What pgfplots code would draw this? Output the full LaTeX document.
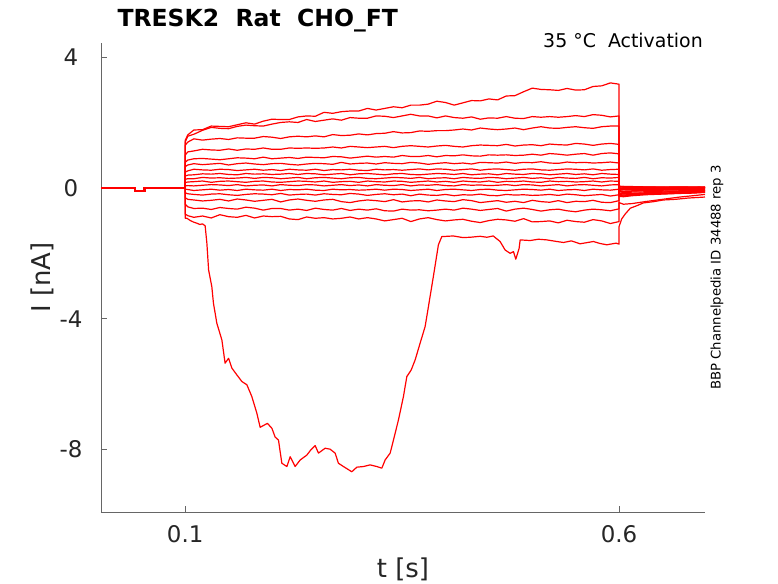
\documentclass[border=0pt]{standalone}
\usepackage{fontspec}
\setmainfont{DejaVu Sans}
\usepackage{pgfplots}
\usepackage{pgfplotstable}
\pgfplotsset{compat=1.18}

\pgfplotstableread{
t T1 T2 T3 T4 T5 T6 T7 T8 T9 T10 T11 T12 T13 T14 T15 T16
0.1 0 0 0 0 0 0 0 0 0 0 0 0 0 0 0 0
0.1 1.45 1.40 1.30 1.00 0.78 0.65 0.48 0.36 0.26 0.16 0.06 -0.04 -0.15 -0.30 -0.50 -0.80
0.103 1.62 1.58 1.40 1.10 0.85 0.70 0.52 0.39 0.28 0.18 0.07 -0.05 -0.18 -0.35 -0.58 -0.85
0.11 1.77 1.64 1.50 1.13 0.89 0.74 0.57 0.40 0.28 0.19 0.06 -0.08 -0.20 -0.37 -0.63 -0.90
0.12 1.78 1.76 1.46 1.18 0.90 0.71 0.55 0.43 0.32 0.21 0.08 -0.06 -0.22 -0.40 -0.62 -0.86
0.13 1.89 1.85 1.49 1.16 0.88 0.73 0.54 0.42 0.30 0.17 0.10 -0.04 -0.19 -0.38 -0.66 -0.92
0.14 1.88 1.82 1.51 1.15 0.86 0.75 0.57 0.44 0.31 0.20 0.09 -0.07 -0.18 -0.35 -0.60 -0.82
0.15 1.87 1.81 1.48 1.19 0.89 0.70 0.56 0.41 0.29 0.21 0.07 -0.05 -0.21 -0.40 -0.63 -0.88
0.16 1.93 1.88 1.53 1.15 0.92 0.74 0.53 0.40 0.30 0.19 0.10 -0.08 -0.23 -0.34 -0.65 -0.90
0.17 1.99 1.92 1.52 1.19 0.91 0.76 0.55 0.44 0.32 0.17 0.06 -0.04 -0.20 -0.37 -0.59 -0.84
0.18 1.95 1.90 1.52 1.18 0.89 0.73 0.57 0.42 0.29 0.20 0.08 -0.06 -0.18 -0.41 -0.62 -0.92
0.19 2.04 1.89 1.57 1.22 0.94 0.71 0.54 0.43 0.32 0.21 0.09 -0.07 -0.19 -0.38 -0.68 -0.86
0.20 2.10 1.95 1.55 1.18 0.89 0.74 0.56 0.41 0.31 0.18 0.06 -0.04 -0.21 -0.35 -0.63 -0.88
0.21 2.09 2.00 1.51 1.18 0.91 0.75 0.53 0.42 0.28 0.17 0.10 -0.08 -0.17 -0.43 -0.63 -0.87
0.22 2.09 2.02 1.56 1.22 0.93 0.72 0.57 0.44 0.30 0.19 0.08 -0.05 -0.22 -0.37 -0.68 -0.95
0.23 2.17 2.00 1.58 1.21 0.90 0.70 0.55 0.41 0.32 0.21 0.07 -0.06 -0.20 -0.34 -0.65 -0.97
0.24 2.20 2.09 1.56 1.22 0.94 0.73 0.54 0.44 0.28 0.20 0.10 -0.04 -0.19 -0.38 -0.69 -0.89
0.25 2.19 2.03 1.59 1.21 0.93 0.75 0.57 0.43 0.31 0.18 0.09 -0.07 -0.22 -0.41 -0.62 -0.93
0.26 2.31 2.07 1.56 1.22 0.92 0.74 0.53 0.40 0.32 0.21 0.06 -0.08 -0.18 -0.37 -0.66 -0.91
0.27 2.28 2.11 1.63 1.25 0.96 0.72 0.56 0.42 0.30 0.17 0.08 -0.04 -0.20 -0.35 -0.68 -0.95
0.28 2.33 2.07 1.60 1.22 0.95 0.78 0.55 0.44 0.28 0.19 0.10 -0.06 -0.21 -0.42 -0.63 -0.93
0.29 2.35 2.15 1.61 1.27 0.91 0.73 0.57 0.40 0.31 0.20 0.07 -0.05 -0.17 -0.45 -0.69 -0.89
0.30 2.35 2.13 1.65 1.25 0.94 0.75 0.54 0.43 0.32 0.17 0.09 -0.07 -0.19 -0.40 -0.65 -0.95
0.31 2.43 2.13 1.62 1.23 0.97 0.76 0.53 0.44 0.29 0.21 0.06 -0.06 -0.23 -0.37 -0.68 -0.91
0.32 2.38 2.20 1.66 1.25 0.94 0.73 0.57 0.42 0.28 0.19 0.10 -0.04 -0.20 -0.39 -0.64 -0.95
0.33 2.43 2.19 1.67 1.27 0.96 0.77 0.55 0.40 0.30 0.18 0.08 -0.07 -0.18 -0.42 -0.70 -1.01
0.34 2.48 2.15 1.72 1.23 0.94 0.75 0.56 0.43 0.32 0.21 0.07 -0.04 -0.21 -0.36 -0.71 -0.97
0.35 2.45 2.20 1.68 1.27 0.99 0.74 0.54 0.44 0.31 0.20 0.10 -0.05 -0.19 -0.43 -0.65 -0.93
0.36 2.53 2.25 1.69 1.29 0.96 0.78 0.56 0.41 0.29 0.17 0.06 -0.08 -0.24 -0.40 -0.68 -1.03
0.37 2.53 2.20 1.74 1.27 0.96 0.76 0.58 0.40 0.32 0.19 0.09 -0.06 -0.19 -0.39 -0.67 -0.95
0.38 2.56 2.20 1.73 1.25 0.99 0.72 0.55 0.42 0.28 0.21 0.08 -0.04 -0.22 -0.43 -0.70 -0.91
0.39 2.65 2.14 1.75 1.28 0.95 0.75 0.58 0.44 0.30 0.18 0.10 -0.08 -0.23 -0.37 -0.68 -0.97
0.40 2.61 2.20 1.75 1.30 0.99 0.77 0.57 0.43 0.31 0.20 0.07 -0.05 -0.20 -0.40 -0.65 -1.01
0.41 2.53 2.15 1.77 1.27 0.98 0.74 0.54 0.41 0.28 0.17 0.06 -0.04 -0.24 -0.42 -0.68 -0.98
0.42 2.60 2.13 1.80 1.25 1.01 0.76 0.56 0.44 0.32 0.21 0.10 -0.06 -0.21 -0.36 -0.62 -0.96
0.43 2.67 2.17 1.77 1.29 0.98 0.73 0.58 0.40 0.30 0.19 0.08 -0.08 -0.22 -0.39 -0.65 -1.02
0.44 2.66 2.10 1.83 1.31 0.97 0.78 0.54 0.42 0.29 0.18 0.09 -0.05 -0.19 -0.45 -0.69 -1.06
0.45 2.72 2.14 1.80 1.30 1.01 0.77 0.57 0.43 0.32 0.21 0.07 -0.04 -0.23 -0.42 -0.66 -1.00
0.46 2.69 2.13 1.78 1.29 1.00 0.76 0.58 0.40 0.31 0.17 0.08 -0.07 -0.24 -0.39 -0.63 -0.96
0.47 2.81 2.18 1.80 1.33 1.01 0.79 0.56 0.44 0.28 0.20 0.10 -0.08 -0.20 -0.44 -0.71 -0.98
0.48 2.82 2.13 1.83 1.28 0.99 0.75 0.54 0.42 0.30 0.19 0.07 -0.06 -0.22 -0.41 -0.65 -1.02
0.49 2.94 2.12 1.78 1.31 1.00 0.78 0.57 0.41 0.32 0.21 0.10 -0.04 -0.21 -0.45 -0.62 -0.94
0.50 3.05 2.18 1.83 1.32 1.03 0.77 0.58 0.44 0.29 0.18 0.09 -0.05 -0.23 -0.38 -0.66 -1.04
0.51 3.01 2.16 1.87 1.29 1.00 0.80 0.55 0.43 0.31 0.17 0.06 -0.07 -0.22 -0.42 -0.71 -1.03
0.52 3.00 2.18 1.83 1.34 1.05 0.76 0.54 0.40 0.28 0.21 0.08 -0.04 -0.20 -0.44 -0.67 -1.01
0.53 2.98 2.16 1.82 1.32 1.03 0.75 0.56 0.42 0.32 0.19 0.10 -0.08 -0.23 -0.39 -0.65 -1.07
0.54 3.04 2.18 1.85 1.31 1.00 0.79 0.58 0.44 0.30 0.20 0.06 -0.06 -0.19 -0.45 -0.70 -0.99
0.55 2.99 2.21 1.87 1.36 1.03 0.77 0.57 0.41 0.29 0.18 0.09 -0.05 -0.21 -0.41 -0.73 -1.03
0.56 3.00 2.18 1.84 1.34 1.05 0.78 0.55 0.43 0.32 0.19 0.10 -0.08 -0.24 -0.42 -0.68 -1.05
0.57 3.10 2.24 1.82 1.30 1.00 0.76 0.58 0.40 0.28 0.21 0.08 -0.04 -0.22 -0.38 -0.65 -0.97
0.58 3.12 2.22 1.87 1.34 1.05 0.77 0.54 0.44 0.31 0.18 0.06 -0.06 -0.20 -0.44 -0.67 -1.01
0.59 3.21 2.17 1.89 1.36 1.07 0.79 0.56 0.42 0.30 0.21 0.09 -0.07 -0.25 -0.45 -0.70 -1.09
0.60 3.17 2.20 1.89 1.33 1.04 0.76 0.57 0.41 0.32 0.20 0.10 -0.04 -0.21 -0.39 -0.64 -1.03
0.60 -0.22 -0.26 -0.20 -0.16 -0.12 -0.08 -0.04 0.00 0.03 0.05 0.05 0.02 -0.02 -0.10 -0.20 -0.45
0.605 -0.25 -0.27 -0.22 -0.18 -0.14 -0.10 -0.06 -0.02 0.02 0.04 0.04 0.03 -0.03 -0.12 -0.22 -0.50
0.615 -0.22 -0.24 -0.20 -0.17 -0.13 -0.09 -0.05 -0.02 0.01 0.03 0.04 0.03 -0.02 -0.10 -0.20 -0.48
0.63 -0.20 -0.21 -0.18 -0.15 -0.12 -0.08 -0.05 -0.02 0.01 0.03 0.03 0.02 -0.01 -0.08 -0.16 -0.42
0.65 -0.18 -0.19 -0.16 -0.13 -0.10 -0.07 -0.04 -0.01 0.01 0.02 0.03 0.02 0.00 -0.06 -0.13 -0.35
0.67 -0.16 -0.17 -0.14 -0.12 -0.09 -0.06 -0.04 -0.01 0.00 0.02 0.03 0.03 0.01 -0.04 -0.10 -0.28
0.685 -0.15 -0.16 -0.13 -0.11 -0.08 -0.06 -0.03 -0.01 0.00 0.02 0.02 0.03 0.01 -0.03 -0.08 -0.24
0.699 -0.13 -0.14 -0.12 -0.10 -0.08 -0.05 -0.03 0.00 0.01 0.02 0.03 0.02 0.01 -0.02 -0.07 -0.20
}\traces

\begin{document}
\begin{tikzpicture}
\begin{axis}[
  name=ax,
  scale only axis,
  width=604bp, height=469bp,
  xmin=0.003, xmax=0.699, ymin=-9.91, ymax=4.43,
  axis x line*=bottom, axis y line*=left,
  axis line style={black!60, line width=0.8bp},
  xtick={0.1,0.6}, xticklabels={0.1,0.6},
  ytick={-8,-4,0,4}, yticklabels={-8,-4,0,4},
  tick align=inside, major tick length=6bp,
  tick style={black!60, line width=0.8bp},
  xticklabel style={font=\fontsize{23}{27}\selectfont, text=black!85, anchor=north, inner sep=0pt, yshift=-13bp},
  yticklabel style={font=\fontsize{23}{27}\selectfont, text=black!85, anchor=center, inner sep=0pt, xshift=-30bp},
  clip=true,
  tr/.style={red, line width=1.2bp, line join=round},
]
\addplot[red, line width=2.6bp] coordinates {(0.003,0.0) (0.0424,0.0) (0.0424,-0.1) (0.0528,-0.1) (0.0528,0.0) (0.1,0.0)};
\pgfplotsinvokeforeach{1,...,16}{\addplot[tr] table[x=t,y=T#1]{\traces};}
\addplot[tr] coordinates {
(0.1,0) (0.1,-0.93) (0.102,-0.93) (0.106,-1.0) (0.11,-1.05) (0.1135,-1.08) (0.117,-1.12) (0.12,-1.1) (0.123,-1.16)
(0.125,-1.69) (0.127,-2.51) (0.1307,-3.02) (0.1326,-3.53) (0.1365,-4.14) (0.1423,-4.65) (0.146,-5.36) (0.15,-5.21)
(0.1538,-5.51) (0.1596,-5.72) (0.1653,-5.92) (0.1711,-6.02) (0.1768,-6.38) (0.1826,-6.89) (0.1864,-7.32) (0.1948,-7.2)
(0.1999,-7.35) (0.2037,-7.62) (0.2075,-7.71) (0.2114,-8.42) (0.2172,-8.52) (0.221,-8.22) (0.2267,-8.52) (0.2325,-8.32)
(0.2402,-8.17) (0.2448,-8.01) (0.2498,-7.88) (0.2536,-8.11) (0.2613,-7.96) (0.267,-7.99) (0.2728,-8.11) (0.2766,-8.42)
(0.2824,-8.52) (0.292,-8.68) (0.2978,-8.54) (0.3054,-8.52) (0.3131,-8.47) (0.3209,-8.52) (0.3266,-8.57) (0.3304,-8.32)
(0.3362,-8.11) (0.34,-7.71) (0.3458,-7.09) (0.3515,-6.38) (0.3554,-5.77) (0.3604,-5.57) (0.365,-5.26) (0.3707,-4.75)
(0.3765,-4.24) (0.3803,-3.63) (0.386,-2.71) (0.3918,-1.74) (0.3957,-1.49) (0.409,-1.47) (0.42,-1.52) (0.4283,-1.51)
(0.44,-1.48) (0.4476,-1.51) (0.455,-1.47) (0.4629,-1.64) (0.4687,-1.9) (0.4744,-2.0) (0.4783,-1.95) (0.481,-2.18)
(0.4848,-1.85) (0.486,-1.59) (0.4975,-1.61) (0.507,-1.57) (0.5167,-1.59) (0.526,-1.63) (0.5359,-1.67) (0.545,-1.62)
(0.555,-1.71) (0.5704,-1.64) (0.578,-1.7) (0.5858,-1.74) (0.5965,-1.69) (0.6,-1.72) (0.6,-1.18) (0.603,-0.95)
(0.607,-0.8) (0.613,-0.62) (0.62,-0.55) (0.628,-0.46) (0.64,-0.42) (0.651,-0.37) (0.665,-0.35) (0.68,-0.31) (0.699,-0.28)
};
\end{axis}
\node[anchor=base west, font=\bfseries\fontsize{23.6}{28}\selectfont] at ([xshift=13bp,yshift=16.3bp]ax.north west) {TRESK2\ \ Rat\ \ CHO\_FT};
\node[anchor=base east, font=\fontsize{19}{23}\selectfont, inner sep=0pt] at ([xshift=-2bp,yshift=-4.3bp]ax.north east) {35 °C\ \ Activation};
\node[rotate=90, font=\fontsize{26}{30}\selectfont, text=black!85] at ([xshift=-59bp]ax.west) {I [nA]};
\node[font=\fontsize{26}{30}\selectfont, text=black!85] at ([yshift=-57bp]ax.south) {t [s]};
\node[rotate=90, font=\fontsize{13.3}{16}\selectfont] at ([xshift=12bp]ax.east) {BBP Channelpedia ID 34488 rep 3};
\path ([xshift=-101bp,yshift=-71bp]ax.south west) rectangle ([xshift=73bp,yshift=43bp]ax.north east);
\end{tikzpicture}
\end{document}
